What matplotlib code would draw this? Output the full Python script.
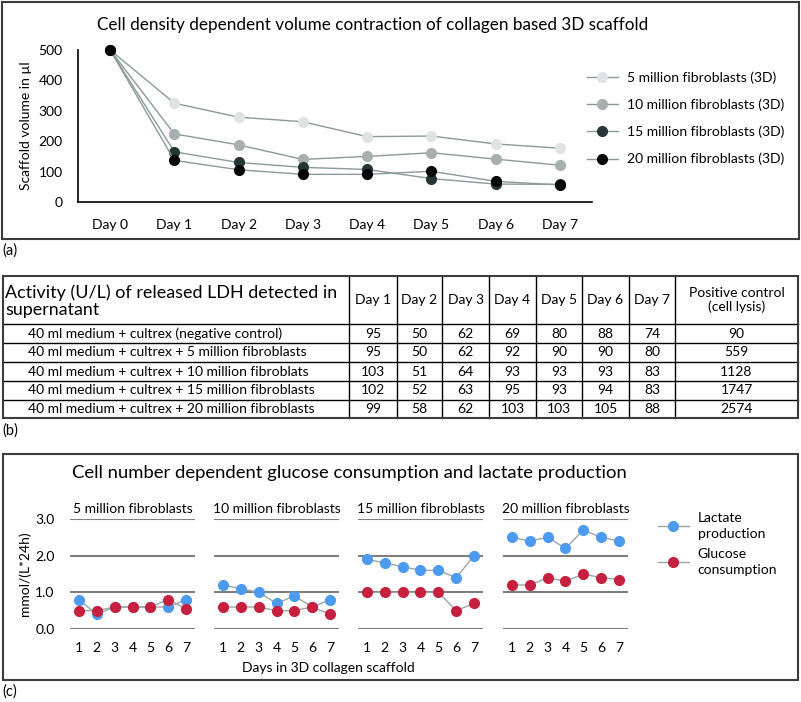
import matplotlib
matplotlib.use("Agg")
import matplotlib.pyplot as plt
from matplotlib.lines import Line2D

plt.rcParams['font.family'] = ['Lato', 'DejaVu Sans']

W, H = 801, 702

# ---------------- data (a) ----------------
days_a = ['Day 0', 'Day 1', 'Day 2', 'Day 3', 'Day 4', 'Day 5', 'Day 6', 'Day 7']
vol_5m = [500, 325, 279, 264, 215, 217, 191, 177]
vol_10m = [500, 224, 188, 140, 150, 162, 141, 121]
vol_15m = [500, 165, 130, 114, 107, 77, 59, 58]
vol_20m = [500, 137, 106, 91, 91, 101, 68, 56]
names_a = ['5 million fibroblasts (3D)', '10 million fibroblasts (3D)',
           '15 million fibroblasts (3D)', '20 million fibroblasts (3D)']

# ---------------- data (b) ----------------
tab_title = 'Activity (U/L) of released LDH detected in\nsupernatant'
tab_days = ['Day 1', 'Day 2', 'Day 3', 'Day 4', 'Day 5', 'Day 6', 'Day 7']
tab_pos_head = 'Positive control\n(cell lysis)'
tab_rows = ['40 ml medium + cultrex (negative control)',
            '40 ml medium + cultrex + 5 million fibroblasts',
            '40 ml medium + cultrex + 10 million fibroblats',
            '40 ml medium + cultrex + 15 million fibroblasts',
            '40 ml medium + cultrex + 20 million fibroblasts']
ldh_neg = [95, 50, 62, 69, 80, 88, 74]
ldh_5m = [95, 50, 62, 92, 90, 90, 80]
ldh_10m = [103, 51, 64, 93, 93, 93, 83]
ldh_15m = [102, 52, 63, 95, 93, 94, 83]
ldh_20m = [99, 58, 62, 103, 103, 105, 88]
ldh_pos = [90, 559, 1128, 1747, 2574]

# ---------------- data (c) ----------------
days_c = [1, 2, 3, 4, 5, 6, 7]
groups_c = ['5 million fibroblasts', '10 million fibroblasts',
            '15 million fibroblasts', '20 million fibroblasts']
lactate = [[0.8, 0.4, 0.6, 0.6, 0.6, 0.6, 0.8],
           [1.2, 1.1, 1.0, 0.7, 0.9, 0.6, 0.8],
           [1.9, 1.8, 1.7, 1.6, 1.6, 1.4, 2.0],
           [2.5, 2.4, 2.5, 2.2, 2.7, 2.5, 2.4]]
glucose = [[0.5, 0.5, 0.6, 0.6, 0.6, 0.8, 0.55],
           [0.6, 0.6, 0.6, 0.5, 0.5, 0.6, 0.4],
           [1.0, 1.0, 1.0, 1.0, 1.0, 0.5, 0.7],
           [1.2, 1.2, 1.4, 1.3, 1.5, 1.4, 1.35]]


def px(l, t, r, b):
    return [l / W, 1 - b / H, (r - l) / W, (b - t) / H]


fig = plt.figure(figsize=(W / 100, H / 100), dpi=100)

# overlay in pixel coordinates for frames, table and panel labels
ov = fig.add_axes([0, 0, 1, 1])
ov.set_xlim(0, W)
ov.set_ylim(H, 0)
ov.axis('off')
frame = '#3c3c3c'

def box(l, t, r, b, lw=1.5):
    ov.plot([l, r, r, l, l], [t, t, b, b, t], color=frame, lw=lw, solid_joinstyle='miter')

box(2, 2, 799, 239)
box(3, 454, 798, 680)
ov.text(2, 251, '(a)', fontsize=10.5, va='center', ha='left')
ov.text(2, 431, '(b)', fontsize=10.5, va='center', ha='left')
ov.text(2, 692, '(c)', fontsize=10.5, va='center', ha='left')

# ---------------- panel (a) ----------------
ax = fig.add_axes(px(78, 50, 592, 202))
ax.set_facecolor('none')
cols_a = ['#dfe3e3', '#a8afaf', '#263535', '#050505']
xs = list(range(len(days_a)))
lines = []
for vals, c, n in zip([vol_5m, vol_10m, vol_15m, vol_20m], cols_a, names_a):
    l, = ax.plot(xs, vals, color='#8a9999', lw=1, marker='o', markersize=7,
                 markerfacecolor=c, markeredgecolor=c, label=n, clip_on=False)
    lines.append(l)
ax.set_xlim(-0.5, 7.5)
ax.set_ylim(0, 500)
ax.set_xticks(xs)
ax.set_xticklabels(days_a)
ax.set_yticks([0, 100, 200, 300, 400, 500])
ax.tick_params(length=0, labelsize=10, pad=12)
ax.tick_params(axis='y', pad=11)
for s in ['top', 'right']:
    ax.spines[s].set_visible(False)
for s in ['left', 'bottom']:
    ax.spines[s].set_color('black')
    ax.spines[s].set_linewidth(1.2)
ax.set_ylabel('Scaffold volume in µl', fontsize=10, labelpad=5)
fig.text(97 / W, 1 - 25 / H,
         'Cell density dependent volume contraction of collagen based 3D scaffold',
         ha='left', va='center', fontsize=12.3)
fig.legend(handles=lines, loc='upper left', bbox_to_anchor=(574 / W, 1 - 59 / H),
           frameon=False, fontsize=10, handlelength=2.3, labelspacing=1.05,
           handletextpad=0.6)

# ---------------- panel (b) table ----------------
xb = [3, 349, 397, 442, 489, 536, 582, 629, 675, 798]
yb = [276, 324, 343, 362, 381, 400, 418]
for x in xb[1:-1]:
    ov.plot([x, x], [yb[0], yb[-1]], color='black', lw=1)
for y in yb[1:-1]:
    ov.plot([xb[0], xb[-1]], [y, y], color='black', lw=1)
box(xb[0], yb[0], xb[-1], yb[-1])
ov.text(5, (yb[0] + yb[1]) / 2 + 1, tab_title, fontsize=12.9, ha='left', va='center',
        linespacing=1.05)
for i, d in enumerate(tab_days):
    ov.text((xb[i + 1] + xb[i + 2]) / 2, (yb[0] + yb[1]) / 2, d, fontsize=10,
            ha='center', va='center')
ov.text((xb[8] + xb[9]) / 2, (yb[0] + yb[1]) / 2, tab_pos_head, fontsize=10,
        ha='center', va='center', linespacing=1.1)
for r, (lab, vals, pos) in enumerate(zip(tab_rows,
                                         [ldh_neg, ldh_5m, ldh_10m, ldh_15m, ldh_20m],
                                         ldh_pos)):
    yc = (yb[r + 1] + yb[r + 2]) / 2
    ov.text(28, yc, lab, fontsize=10, ha='left', va='center')
    for i, v in enumerate(vals):
        ov.text((xb[i + 1] + xb[i + 2]) / 2, yc, str(v), fontsize=10,
                ha='center', va='center')
    ov.text((xb[8] + xb[9]) / 2, yc, str(pos), fontsize=10, ha='center', va='center')

# ---------------- panel (c) ----------------
blue, red = '#4c9bef', '#c6203e'
lefts = [70, 214, 358, 503]
for k, (g, lac, glu) in enumerate(zip(groups_c, lactate, glucose)):
    a = fig.add_axes(px(lefts[k], 519, lefts[k] + 125, 629))
    a.set_facecolor('none')
    a.plot(days_c, lac, color='#9aa5a5', lw=1, marker='o', markersize=7,
           markerfacecolor=blue, markeredgecolor=blue, clip_on=False, zorder=3)
    a.plot(days_c, glu, color='#9aa5a5', lw=1, marker='o', markersize=7,
           markerfacecolor=red, markeredgecolor=red, clip_on=False, zorder=4)
    a.set_xlim(0.5, 7.5)
    a.set_ylim(0, 3)
    a.set_yticks([0, 1, 2, 3])
    a.set_xticks(days_c)
    a.grid(axis='y', color='#7f7f7f', lw=1.5)
    a.set_axisbelow(True)
    for s in a.spines.values():
        s.set_visible(False)
    a.tick_params(length=0, labelsize=10, pad=9)
    if k == 0:
        a.set_yticklabels(['0.0', '1.0', '2.0', '3.0'])
        a.tick_params(axis='y', pad=11)
        a.set_ylabel('mmol/(L*24h)', fontsize=10, labelpad=3)
    else:
        a.set_yticklabels([])
    a.set_title(g, fontsize=10, pad=4)
    if k == 0:
        h_lac = Line2D([], [], color='#9aa5a5', lw=1, marker='o', markersize=7,
                       markerfacecolor=blue, markeredgecolor=blue)
        h_glu = Line2D([], [], color='#9aa5a5', lw=1, marker='o', markersize=7,
                       markerfacecolor=red, markeredgecolor=red)

fig.text(349 / W, 1 - 473 / H,
         'Cell number dependent glucose consumption and lactate production',
         ha='center', va='center', fontsize=13.3)
fig.text(328 / W, 1 - 668 / H, 'Days in 3D collagen scaffold', ha='center',
         va='center', fontsize=10)
leg = fig.legend(handles=[h_lac, h_glu],
                 labels=['Lactate\nproduction', 'Glucose\nconsumption'],
                 loc='upper left', bbox_to_anchor=(645 / W, 1 - 500 / H), frameon=False,
                 fontsize=10, handlelength=2.3, labelspacing=0.6, handletextpad=0.6)
for t in leg.get_texts():
    t.set_linespacing(1.35)

fig.savefig('out.png', dpi=100)
